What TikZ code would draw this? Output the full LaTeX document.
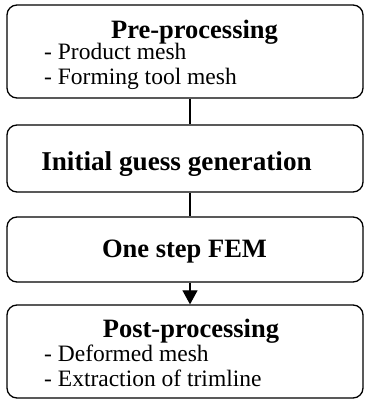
\documentclass[tikz,border=0pt]{standalone}
\usepackage{fontspec}
\setmainfont{Liberation Serif}
\usetikzlibrary{arrows.meta}
\begin{document}
\begin{tikzpicture}[x=1pt,y=1pt,
  stage/.style={draw=black, line width=1.3pt, rounded corners=10pt, inner sep=0pt, minimum width=356pt},
  ttl/.style={anchor=base, inner sep=0pt, font=\fontsize{26.5}{30}\selectfont\bfseries},
  itm/.style={anchor=base west, inner sep=0pt, font=\fontsize{23.5}{26}\selectfont},
  link/.style={line width=1.2pt}]
\useasboundingbox (0,0) rectangle (365,401);
% boxes
\node[stage, minimum height=93pt] (b1) at (185,349.5) {};
\node[stage, minimum height=67pt] (b2) at (185,242.5) {};
\node[stage, minimum height=65pt] (b3) at (185,151.5) {};
\node[stage, minimum height=93pt] (b4) at (185,49.5) {};
% texts
\node[ttl] (t1) at (194.5,362) {Pre-processing};
\node[itm] (i11) at (44,341) {- Product mesh};
\node[itm] (i12) at (44,316) {- Forming tool mesh};
\node[ttl, font=\fontsize{27.2}{30}\selectfont\bfseries] (t2) at (176.5,230.5) {Initial guess generation};
\node[ttl] (t3) at (184.5,143) {One step FEM};
\node[ttl] (t4) at (191,63) {Post-processing};
\node[itm] (i41) at (44,39) {- Deformed mesh};
\node[itm] (i42) at (44,14.5) {- Extraction of trimline};
% connectors
\draw[link] (b1.south -| 190,0) -- (b2.north -| 190,0);
\draw[link] (b2.south -| 190,0) -- (b3.north -| 190,0);
\draw[link, -{Triangle[length=14pt,width=15pt]}] (b3.south -| 190,0) -- (b4.north -| 190,0);
\end{tikzpicture}
\end{document}
